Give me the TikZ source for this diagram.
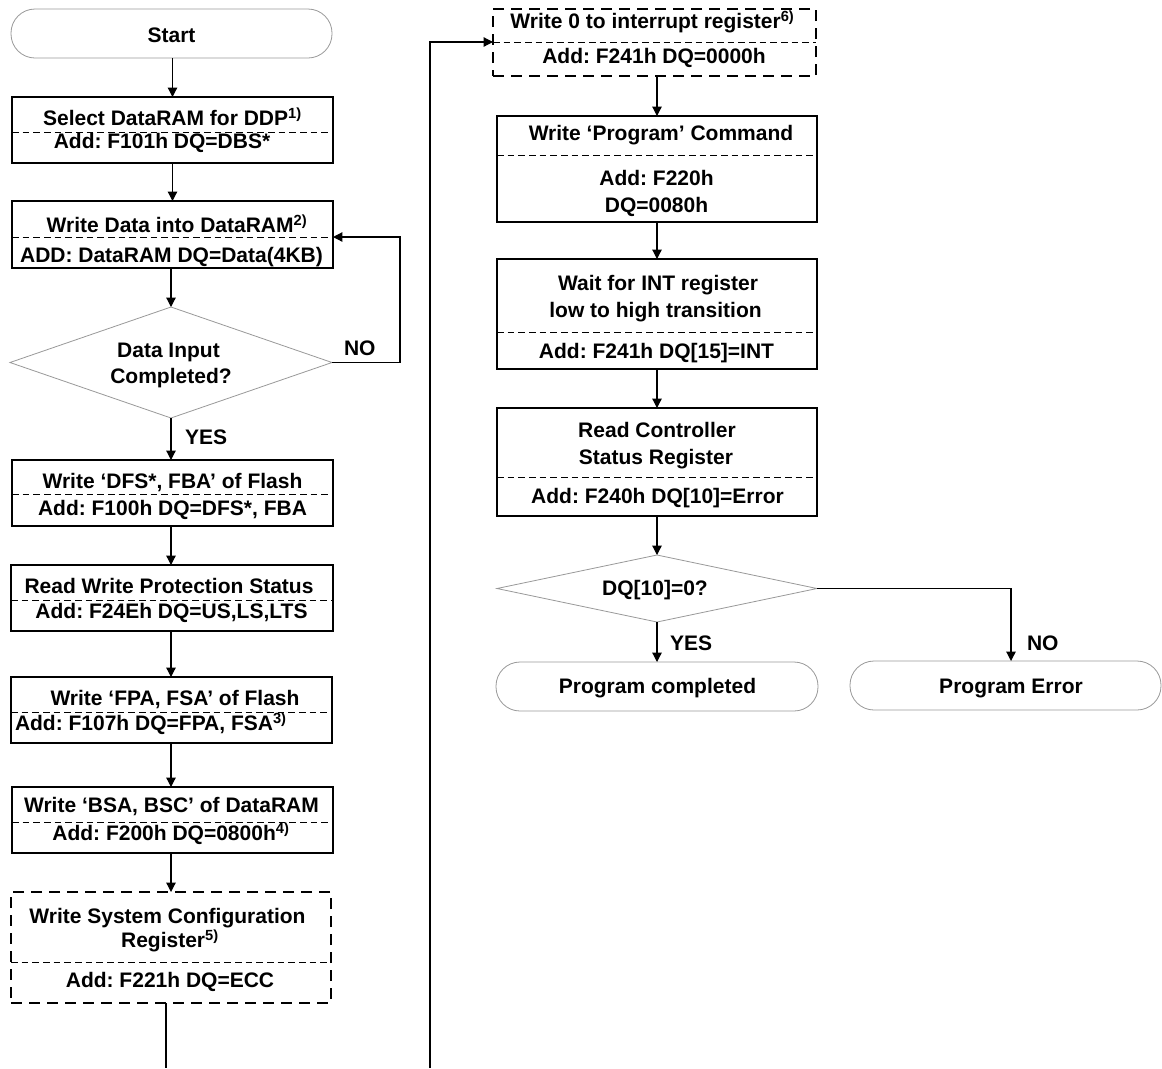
\documentclass[tikz,border=0pt]{standalone}
\usepackage{fontspec}
\setmainfont{Liberation Sans}
\usetikzlibrary{arrows.meta,fit,shapes.geometric}
\frenchspacing

\begin{document}
\begin{tikzpicture}[x=0.75pt,y=-0.75pt,
  every node/.style={inner sep=0pt, outer sep=0pt},
  lbl/.style={font=\fontsize{15.75pt}{19.5pt}\selectfont\bfseries, anchor=base},
  lblw/.style={lbl, anchor=base west},
  stepbox/.style={draw=black, line width=1pt},
  dashbox/.style={draw=black, line width=1pt, dash pattern=on 8pt off 5.5pt},
  pill/.style={draw=black!40, line width=0.6pt, rounded corners=18pt},
  decision/.style={diamond, draw=black!40, line width=0.6pt},
  divider/.style={line width=0.75pt, dash pattern=on 5pt off 3pt},
  flow/.style={line width=0.9pt, -{Triangle[length=7pt,width=7pt]}},
  plain/.style={line width=0.9pt}
]
\useasboundingbox (0,0) rectangle (1162,1068);
\fill[white] (0,0) rectangle (1162,1068);

% ---------------- left column ----------------
\node[pill, fit={(11,9) (332,58)}] (start) {};
\node[lbl] (tstart) at (171.5,42) {Start};

\node[stepbox, fit={(12,97) (333,163)}] (b1) {};
\coordinate (b1d) at (12,132);
\node[lbl] (b1a) at (172.5,125) {Select DataRAM for DDP\textsuperscript{1)}};
\node[lbl] (b1b) at (162,148) {Add: F101h DQ=DBS*};

\node[stepbox, fit={(12,201) (333,268)}] (b2) {};
\coordinate (b2d) at (12,237);
\node[lbl] (b2a) at (177,232) {Write Data into DataRAM\textsuperscript{2)}};
\node[lbl] (b2b) at (171.5,262) {ADD: DataRAM DQ=Data(4KB)};

\node[decision, minimum width=241.5pt, minimum height=83.25pt] (d1) at (171,362.5) {};
\node[lbl] (d1a) at (168.5,357) {Data Input};
\node[lbl] (d1b) at (171,383) {Completed?};
\node[lblw] (no1) at (344,355) {NO};
\node[lblw] (yes1) at (185,444) {YES};

\node[stepbox, fit={(12,460) (333,526)}] (b3) {};
\coordinate (b3d) at (12,494);
\node[lbl] (b3a) at (172.5,488) {Write ‘DFS*, FBA’ of Flash};
\node[lbl] (b3b) at (172.5,515) {Add: F100h DQ=DFS*, FBA};

\node[stepbox, fit={(11,565) (333,631)}] (b4) {};
\coordinate (b4d) at (11,600);
\node[lbl] (b4a) at (169,593) {Read Write Protection Status};
\node[lbl] (b4b) at (171.5,618) {Add: F24Eh DQ=US,LS,LTS};

\node[stepbox, fit={(11,677) (332,743)}] (b5) {};
\coordinate (b5d) at (11,712);
\node[lbl] (b5a) at (175,705) {Write ‘FPA, FSA’ of Flash};
\node[lblw] (b5b) at (15,730) {Add: F107h DQ=FPA, FSA\textsuperscript{3)}};

\node[stepbox, fit={(12,787) (333,853)}] (b6) {};
\coordinate (b6d) at (12,822);
\node[lbl] (b6a) at (171.5,812) {Write ‘BSA, BSC’ of DataRAM};
\node[lbl] (b6b) at (171,840) {Add: F200h DQ=0800h\textsuperscript{4)}};

\node[dashbox, fit={(11,892) (331,1003)}] (b7) {};
\coordinate (b7d) at (11,962);
\node[lbl] (b7a) at (167.5,923) {Write System Configuration};
\node[lbl] (b7b) at (170,947) {Register\textsuperscript{5)}};
\node[lbl] (b7c) at (170,987) {Add: F221h DQ=ECC};
\coordinate (offA) at (166,1068);

% ---------------- right column ----------------
\coordinate (offB) at (430,1068);
\node[dashbox, fit={(493,9) (816,76)}] (r1) {};
\coordinate (r1d) at (493,42);
\node[lbl] (r1a) at (652.5,28) {Write 0 to interrupt register\textsuperscript{6)}};
\node[lbl] (r1b) at (654,63) {Add: F241h DQ=0000h};

\node[stepbox, fit={(497,116) (817,222)}] (r2) {};
\coordinate (r2d) at (497,155);
\node[lbl] (r2a) at (661,140) {Write ‘Program’ Command};
\node[lbl] (r2b) at (656.5,185) {Add: F220h};
\node[lbl] (r2c) at (656.5,212) {DQ=0080h};

\node[stepbox, fit={(497,259) (817,369)}] (r3) {};
\coordinate (r3d) at (497,332);
\node[lbl] (r3a) at (658,290) {Wait for INT register};
\node[lbl] (r3b) at (655.5,317) {low to high transition};
\node[lbl] (r3c) at (656.5,358) {Add: F241h DQ[15]=INT};

\node[stepbox, fit={(497,408) (817,516)}] (r4) {};
\coordinate (r4d) at (497,477);
\node[lbl] (r4a) at (657,437) {Read Controller};
\node[lbl] (r4b) at (656,464) {Status Register};
\node[lbl] (r4c) at (657.5,503) {Add: F240h DQ[10]=Error};

\node[decision, minimum width=240pt, minimum height=50.25pt] (d2) at (657,588.5) {};
\node[lbl] (d2a) at (655,595) {DQ[10]=0?};
\node[lblw] (yes2) at (670,650) {YES};
\node[lblw] (no2) at (1027,650) {NO};

\node[pill, fit={(496,662) (818,711)}] (done) {};
\node[lbl] (tdone) at (657.5,693) {Program completed};
\node[pill, fit={(850,661) (1161,710)}] (err) {};
\node[lbl] (terr) at (1011,693) {Program Error};

% ---------------- dashed dividers ----------------
\foreach \n in {b1,b2,b3,b4,b5,b6,b7,r1,r2,r3,r4}
  \draw[divider] (\n d) -- (\n d -| \n.east);

% ---------------- connectors ----------------
\draw[flow] (start.south -| b1.north) -- (b1.north);
\draw[flow] (b1.south) -- (b2.north);
\draw[flow] (b2.south -| d1.north) -- (d1.north);
\draw[flow] (d1.east) -- ++(68,0) |- (b2d -| b2.east);
\draw[flow] (d1.south) -- (d1.south |- b3.north);
\draw[flow] (b3.south -| d1.south) -- (d1.south |- b4.north);
\draw[flow] (b4.south -| d1.south) -- (d1.south |- b5.north);
\draw[flow] (b5.south -| d1.south) -- (d1.south |- b6.north);
\draw[flow] (b6.south -| d1.south) -- (d1.south |- b7.north);
\draw[plain] (b7.south -| offA) -- (offA);
\draw[flow] (offB) |- (r1d);
\draw[flow] (r1.south -| r2.north) -- (r2.north);
\draw[flow] (r2.south) -- (r3.north);
\draw[flow] (r3.south) -- (r4.north);
\draw[flow] (r4.south) -- (d2.north);
\draw[flow] (d2.south) -- (done.north);
\draw[flow] (d2.east) -| (err.north -| 1011,0);
\end{tikzpicture}
\end{document}
